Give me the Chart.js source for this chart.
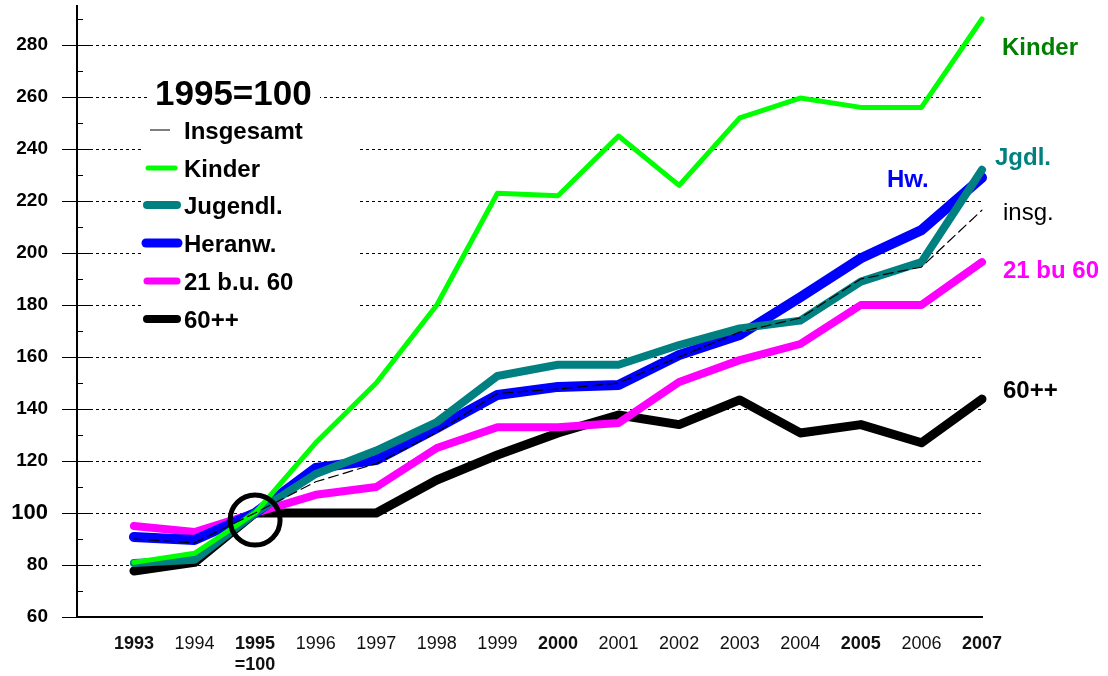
<!DOCTYPE html>
<html>
<head>
<meta charset="utf-8">
<script src="https://cdn.jsdelivr.net/npm/chart.js@4/dist/chart.umd.min.js"></script>
<style>
  body { margin: 0; background: #fff; }
  canvas { display: block; }
</style>
</head>
<body>
<canvas id="grafik" width="1108" height="676"></canvas>
<script>
// ---- Daten (1995 = 100) ----
const jahre = [1993, 1994, 1995, 1996, 1997, 1998, 1999, 2000, 2001, 2002, 2003, 2004, 2005, 2006, 2007];
const fettJahre = [1993, 1995, 2000, 2005, 2007];

const insgesamt = [90, 88.5, 100, 112, 119, 131, 146, 147.7, 150, 160, 169.6, 175, 190, 194.6, 216.5];
const kinder    = [81, 84.5, 100, 127, 150, 180, 223, 222, 245, 226, 252, 259.6, 256, 256, 290];
const jugendl   = [80.8, 82, 100, 115, 124, 135, 152.7, 157, 157, 164.6, 171, 174, 189, 196.5, 232];
const heranw    = [90.8, 89.6, 100, 117.3, 120.4, 132.7, 145.4, 148.5, 149.2, 160.8, 168.5, 183, 198, 208.8, 229];
const mitte     = [95, 92.7, 100, 107, 110, 125, 133, 133, 134.6, 150.4, 158.8, 165, 180, 180, 196.5];
const senioren  = [77.7, 81, 100, 100, 100, 112.7, 122.3, 130.8, 137.7, 134, 143.5, 130.8, 134, 127, 143.8];

const yTicks = [60, 70, 80, 90, 100, 110, 120, 130, 140, 150, 160, 170, 180, 190, 200, 210, 220, 230, 240, 250, 260, 270, 280, 290];

const FONT = '"Liberation Sans", Arial, sans-serif';

function punkte(werte) {
    return werte.map((v, i) => ({ x: jahre[i], y: v }));
}

function linie(label, werte, farbe, breite, order, dash) {
    return {
        label, data: punkte(werte), borderColor: farbe, borderWidth: breite,
        borderDash: dash || [], pointRadius: 0, tension: 0, fill: false,
        borderCapStyle: 'round', borderJoinStyle: 'round', clip: false, order
    };
}

// Gitter, Striche und Legende selbst zeichnen
const rahmen = {
    id: 'rahmen',
    beforeDatasetsDraw(chart) {
        const { ctx, chartArea, scales: { y } } = chart;
        ctx.save();
        ctx.strokeStyle = '#000';
        ctx.lineWidth = 1;
        yTicks.forEach(v => {
            const py = Math.round(y.getPixelForValue(v)) + 0.5;
            if (v % 20 === 0) {
                if (v > 60) {
                    ctx.setLineDash([3, 3]);
                    ctx.beginPath(); ctx.moveTo(chartArea.left + 13, py); ctx.lineTo(chartArea.right, py); ctx.stroke();
                }
                ctx.setLineDash([]);
                ctx.beginPath(); ctx.moveTo(chartArea.left - 15, py); ctx.lineTo(chartArea.left + 13, py); ctx.stroke();
            } else {
                ctx.setLineDash([]);
                ctx.beginPath(); ctx.moveTo(chartArea.left, py); ctx.lineTo(chartArea.left + 6, py); ctx.stroke();
            }
        });
        // weisser Hintergrund der Legende
        ctx.fillStyle = '#fff';
        ctx.fillRect(148, 75, 172, 40);
        ctx.fillRect(143, 115, 215, 225);
        ctx.restore();
    },
    afterDatasetsDraw(chart) {
        const { ctx } = chart;
        ctx.save();
        ctx.fillStyle = '#000';
        ctx.textBaseline = 'alphabetic';
        ctx.font = `bold 35px ${FONT}`;
        ctx.fillText('1995=100', 155, 105);

        const eintraege = [
            ['Insgesamt', '#000', 1, 130, 150, 170],
            ['Kinder', '#00ff00', 5, 168, 148, 175],
            ['Jugendl.', '#008080', 8, 205, 147, 177],
            ['Heranw.', '#0000ff', 9, 243, 146, 178],
            ['21 b.u. 60', '#ff00ff', 7, 281, 147, 177],
            ['60++', '#000', 8, 319, 147, 177]
        ];
        eintraege.forEach(([txt, farbe, breite, yy, x1, x2]) => {
            ctx.strokeStyle = farbe;
            ctx.lineWidth = breite;
            ctx.lineCap = breite > 1 ? 'round' : 'butt';
            ctx.beginPath(); ctx.moveTo(x1, yy); ctx.lineTo(x2, yy); ctx.stroke();
            ctx.fillStyle = '#000';
            ctx.font = `bold 24px ${FONT}`;
            ctx.fillText(txt, 184, yy + 8.5);
        });

        // Beschriftung rechts
        const rechts = [
            ['Kinder', '#007f00', 1002, 55, 'bold'],
            ['Jgdl.', '#008080', 995, 165, 'bold'],
            ['Hw.', '#0000ff', 887, 187, 'bold'],
            ['insg.', '#000', 1003, 220, 'normal'],
            ['21 bu 60', '#ff00ff', 1003, 278, 'bold'],
            ['60++', '#000', 1003, 398, 'bold']
        ];
        rechts.forEach(([txt, farbe, x, yy, gew]) => {
            ctx.fillStyle = farbe;
            ctx.font = `${gew} 24px ${FONT}`;
            ctx.fillText(txt, x, yy);
        });
        ctx.restore();
    }
};

const ctx = document.getElementById('grafik').getContext('2d');
new Chart(ctx, {
    type: 'line',
    data: {
        datasets: [
            { type: 'scatter', label: 'Kreis', data: [{ x: 1995, y: 97.3 }], pointRadius: 25, pointBorderWidth: 5,
              pointBackgroundColor: 'rgba(0,0,0,0)', pointBorderColor: '#000', clip: false, order: -1 },
            linie('Insgesamt', insgesamt, '#000', 1.2, 0, [10, 5]),
            linie('Kinder', kinder, '#00ff00', 5, 1),
            linie('Jugendl.', jugendl, '#008080', 8, 2),
            linie('Heranw.', heranw, '#0000ff', 10, 3),
            linie('21 b.u. 60', mitte, '#ff00ff', 8, 4),
            linie('60++', senioren, '#000', 9, 5)
        ]
    },
    options: {
        responsive: false, animation: false, devicePixelRatio: 1,
        layout: { autoPadding: false, padding: { left: 0, right: 126, top: 6, bottom: 0 } },
        plugins: { legend: { display: false }, tooltip: { enabled: false } },
        scales: {
            x: {
                type: 'linear', min: 1992.06, max: 2007,
                afterBuildTicks: s => { s.ticks = jahre.map(v => ({ value: v })); },
                afterFit: s => { s.height = 59; s.paddingLeft = 0; s.paddingRight = 0; },
                grid: { display: false, drawTicks: false },
                border: { display: true, color: '#000', width: 2 },
                ticks: {
                    autoSkip: false, maxRotation: 0, padding: 16, color: '#111',
                    callback: v => v === 1995 ? ['1995', '=100'] : String(v),
                    font: c => ({ family: FONT, size: 18, weight: fettJahre.includes(c.tick && c.tick.value) ? 'bold' : 'normal', lineHeight: 1.2 })
                }
            },
            y: {
                min: 60, max: 295,
                afterBuildTicks: s => { s.ticks = yTicks.map(v => ({ value: v })); },
                afterFit: s => { s.width = 77; s.paddingTop = 0; s.paddingBottom = 0; },
                grid: { display: false, drawTicks: false },
                border: { display: true, color: '#000', width: 2 },
                ticks: {
                    padding: 29, color: '#000',
                    callback: v => v % 20 === 0 ? String(v) : '',
                    font: c => ({ family: FONT, size: c.tick && c.tick.value === 100 ? 22 : 19, weight: 'bold' })
                }
            }
        }
    },
    plugins: [rahmen]
});
</script>
</body>
</html>
